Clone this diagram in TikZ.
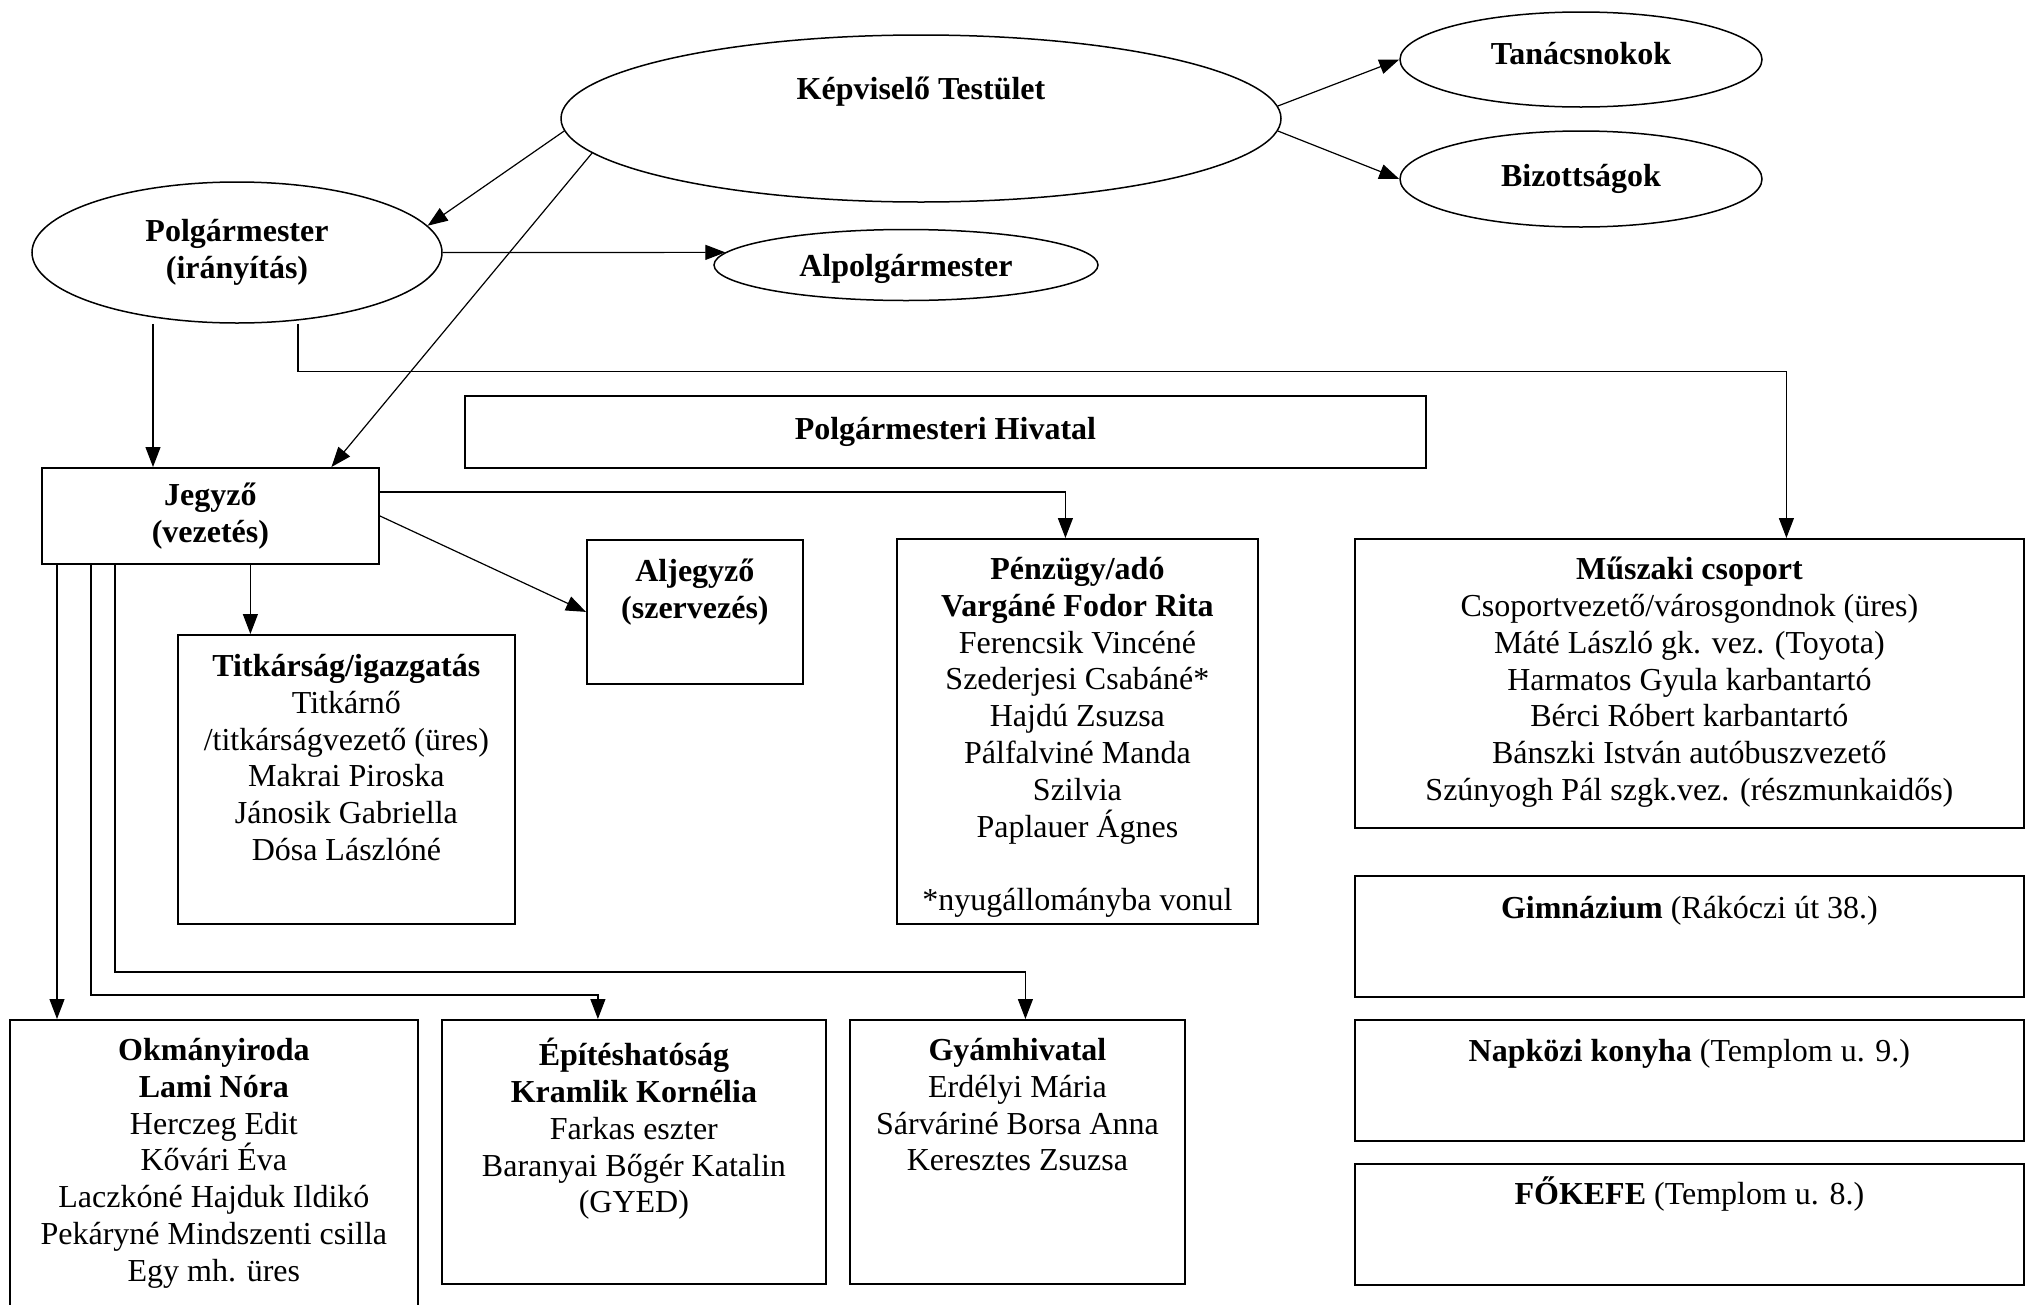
\documentclass[tikz,border=0pt]{standalone}
\usepackage{fontspec}
\setmainfont{Liberation Serif}
\usetikzlibrary{shapes,positioning,calc,arrows.meta}

\begin{document}
\begin{tikzpicture}[x=1pt,y=-1pt,
        every node/.style={font=\fontsize{32}{36.8}\selectfont},
        oval/.style={ellipse, draw, line width=1.5pt, inner sep=0pt, align=center, font=\fontsize{32}{36.8}\selectfont\bfseries},
        box/.style={rectangle, draw, line width=1.8pt, anchor=north west, inner sep=0pt, align=center},
        txt/.style={inner sep=0pt, align=center, execute at begin node={\rule{0pt}{30pt}}},
        arr/.style={line width=1.2pt, -{Triangle[length=20pt,width=15pt]}}]
        \useasboundingbox (0,0) rectangle (2025,1304);

        \node [oval, minimum width=720pt, minimum height=167pt] (kt) at (921,118.5) {};
        \node [txt, below=35pt of kt.north, font=\fontsize{32}{36.8}\selectfont\bfseries] (kt-t) {Képviselő Testület};
        \node [oval, minimum width=362pt, minimum height=95pt, text depth=13pt] (tan) at (1581,59.5) {Tanácsnokok};
        \node [oval, minimum width=362pt, minimum height=96pt] (biz) at (1581,179) {Bizottságok};
        \node [oval, minimum width=410pt, minimum height=141pt] (polg) at (237,252.5) {Polgármester\\(irányítás)};
        \node [oval, minimum width=384pt, minimum height=71pt, text height=30pt] (alp) at (906,265) {Alpolgármester};

        \node [box, minimum width=961pt, minimum height=72pt] (hiv) at (464,395) {\textbf{Polgármesteri Hivatal}};
        \node [box, minimum width=337pt, minimum height=96pt] (jegy) at (41,467) {\textbf{Jegyző}\\\textbf{(vezetés)}};
        \node [box, minimum width=216pt, minimum height=144pt] (alj) at (586,539) {};
        \node [txt, below=20pt of alj.north] (alj-t) {\textbf{Aljegyző}\\\textbf{(szervezés)}};
        \node [box, minimum width=337pt, minimum height=289pt] (titk) at (177,634) {};
        \node [txt, below=20pt of titk.north] (titk-t) {\textbf{Titkárság/igazgatás}\\Titkárnő\\/titkárságvezető (üres)\\Makrai Piroska\\Jánosik Gabriella\\Dósa Lászlóné};
        \node [box, minimum width=361pt, minimum height=385pt] (penz) at (896,538) {};
        \node [txt, below=19pt of penz.north] (penz-t) {\textbf{Pénzügy/adó}\\\textbf{Vargáné Fodor Rita}\\Ferencsik Vincéné\\Szederjesi Csabáné*\\Hajdú Zsuzsa\\Pálfalviné Manda\\Szilvia\\Paplauer Ágnes\\[36.8pt]{*}nyugállományba vonul};
        \node [box, minimum width=669pt, minimum height=289pt] (musz) at (1354,538) {};
        \node [txt, below=19pt of musz.north] (musz-t) {\textbf{Műszaki csoport}\\Csoportvezető/városgondnok (üres)\\Máté László gk. vez. (Toyota)\\Harmatos Gyula karbantartó\\Bérci Róbert karbantartó\\Bánszki István autóbuszvezető\\Szúnyogh Pál szgk.vez. (részmunkaidős)};
        \node [box, minimum width=669pt, minimum height=121pt] (gimn) at (1354,875) {};
        \node [txt, below=13pt of gimn.north] (gimn-t) {\textbf{Gimnázium} (Rákóczi út 38.)};
        \node [box, minimum width=669pt, minimum height=121pt] (napk) at (1354,1019) {};
        \node [txt, below=12pt of napk.north] (napk-t) {\textbf{Napközi konyha} (Templom u. 9.)};
        \node [box, minimum width=669pt, minimum height=121pt] (fokf) at (1354,1163) {};
        \node [txt, below=11pt of fokf.north] (fokf-t) {\textbf{FŐKEFE} (Templom u. 8.)};

        \node [box, minimum width=408pt, minimum height=300pt] (okm) at (9,1019) {};
        \node [txt, below=19pt of okm.north] (okm-t) {\textbf{Okmányiroda}\\\textbf{Lami Nóra}\\Herczeg Edit\\Kővári Éva\\Laczkóné Hajduk Ildikó\\Pekáryné Mindszenti csilla\\Egy mh. üres};
        \node [box, minimum width=384pt, minimum height=264pt] (epit) at (441,1019) {};
        \node [txt, below=19pt of epit.north] (epit-t) {\textbf{Építéshatóság}\\\textbf{Kramlik Kornélia}\\Farkas eszter\\Baranyai Bőgér Katalin\\(GYED)};
        \node [box, minimum width=335pt, minimum height=264pt] (gyam) at (849,1019) {};
        \node [txt, below=19pt of gyam.north] (gyam-t) {\textbf{Gyámhivatal}\\Erdélyi Mária\\Sárváriné Borsa Anna\\Keresztes Zsuzsa};

        \draw [arr] (kt.182) -- (polg.8);
        \draw [arr] (kt.186) -- (jegy.22);
        \draw [arr] (kt.2) -- (tan.west);
        \draw [arr] (kt.-2) -- (biz.west);
        \draw [arr] (polg.east) -- (alp.176);
        \draw [arr] ([xshift=-84pt]polg.south) -- ([xshift=-84pt]polg.south |- jegy.north);
        \draw [arr] ([xshift=61pt]polg.south) -- ++(0,48) -| ([xshift=97pt]musz.north);
        \draw [arr] ([yshift=24pt]jegy.east) -| ([xshift=-12pt]penz.north);
        \draw [arr] (jegy.east) -- (alj.west);
        \draw [arr] ([xshift=40pt]jegy.south) -- ([xshift=40pt]jegy.south |- titk.north);
        \draw [arr] ([xshift=16pt]jegy.south west) -- ([xshift=16pt]jegy.south west |- okm.north);
        \draw [arr] ([xshift=50pt]jegy.south west) |- ([xshift=-36pt,yshift=24pt]epit.north) -- ([xshift=-36pt]epit.north);
        \draw [arr] ([xshift=74pt]jegy.south west) |- ([xshift=8pt,yshift=47pt]gyam.north) -- ([xshift=8pt]gyam.north);
    \end{tikzpicture}
\end{document}
